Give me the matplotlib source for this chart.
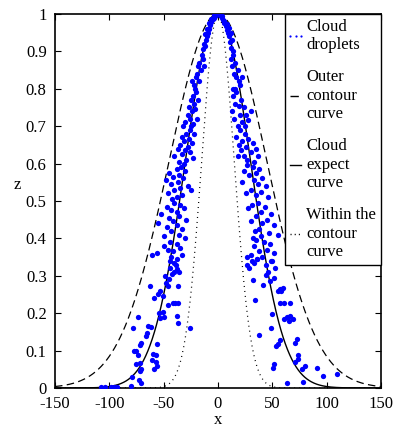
import numpy as np
import matplotlib
matplotlib.use("Agg")
import matplotlib.pyplot as plt
from matplotlib.lines import Line2D
from matplotlib.legend_handler import HandlerLine2D

plt.rcParams['font.family'] = ['Liberation Serif', 'DejaVu Serif']
plt.rcParams['mathtext.fontset'] = 'stix'

# Cloud model parameters (expectation, entropy, hyper-entropy)
Ex = 0.0
En = 30.0
He = 5.0

# Cloud droplets (x, z)
drop_x = [
    -1, 0, 1, -2, 2, -3, 3, -4, 4, -5, 5, -6, 6, -7, 7, -8, 8, -9, 9, -10, 10, -11, 11, -12, 12,
    -6, 6, -8, 8, -10, 10, -12, 12, -4, 4, -13, 13, -14, 14, -2, 2,
    -15, -17, -14, -18, -16, -19, -20, -17, -22, -21, -13, -24,
    14, 16, 13, 18, 15, 17, 19, 20, 14, 16, 22, 12,
    -20, -23, -18, -25, -22, -27, -21, -24, -28, -19, -26, -30, -23, -25, -32,
    17, 14, 21, 16, 19, 24, 13, 20, 26, 15, 22, 28, 18, 25, 30,
    -26, -29, -22, -33, -27, -31, -24, -35, -28, -37, -30, -26, -33, -40, -29, -36, -31, -23,
    20, 25, 17, 28, 22, 32, 19, 26, 35, 21, 30, 24, 37, 27, 33, 18,
    -34, -38, -30, -45, -36, -41, -32, -48, -37, -43, -28, -35, -40, -46, -33, -38, -25, -42,
    27, 32, 38, 24, 35, 29, 41, 33, 22, 37, 44, 30, 40, 35, 46, 26,
    -40, -35, -47, -31, -43, -38, -52, -36, -45, -29, -41, -55, -38, -47, -33, -43, -36, -50, -30,
    37, 31, 43, 28, 40, 49, 35, 45, 30, 41, 52, 38, 34, 47, 40, 55, 32,
    -44, -38, -50, -35, -46, -41, -56, -33, -43, -38, -61, -44, -39, -40,
    35, 42, 48, 33, 45, 38, 52, 30, 41, 36, 49, 27, 33, 44,
    -62.6, -58.6, -73.9, -77.9, -64.4, -62, -65.3, -66, -71.8, -70.5, -77.3, -75, -73.9, -75.4,
    -72, -71.8, -70.5, -72.7, -71, -79.4, -60, -57, -61, -57, -56, -59, -56.4, -53.4, -54, -50,
    -51, -45.7, -39.6, -37, -41, -38, -36.8, -25.8, -47.8, -46, -45, -37, -44, -40, -38, -42,
    -36, -49, -53, -55, -51, -108, -104, -96, -93, -80, -98,
    27, 31, 36, 29, 31.9, 34, 38, 41.7, 44, 46, 49.4, 52.4, 51.8, 48, 57, 60, 55, 58, 57, 61,
    66, 63.5, 66, 61, 65, 69, 49.4, 48.8, 57, 55, 53, 72.7, 71, 73.9, 74, 51.5, 50.5, 70.8,
    77.3, 80, 91.4, 96.3, 110, 64, 78,
]
drop_z = [
    1.0, 1.0, 0.999, 0.998, 0.997, 0.995, 0.994, 0.99, 0.99, 0.985, 0.984, 0.978, 0.976, 0.97,
    0.968, 0.96, 0.958, 0.95, 0.948, 0.94, 0.94, 0.93, 0.925, 0.915, 0.91,
    0.985, 0.982, 0.975, 0.972, 0.96, 0.962, 0.945, 0.95, 0.996, 0.995, 0.92, 0.93, 0.905, 0.9,
    0.999, 1.0,
    0.89, 0.87, 0.88, 0.86, 0.85, 0.84, 0.83, 0.82, 0.81, 0.80, 0.86, 0.82,
    0.89, 0.87, 0.86, 0.85, 0.84, 0.83, 0.82, 0.81, 0.8, 0.8, 0.83, 0.88,
    0.79, 0.78, 0.77, 0.77, 0.76, 0.75, 0.745, 0.74, 0.73, 0.72, 0.72, 0.71, 0.705, 0.70, 0.70,
    0.79, 0.78, 0.77, 0.76, 0.755, 0.75, 0.74, 0.73, 0.73, 0.72, 0.71, 0.715, 0.70, 0.70, 0.74,
    0.69, 0.68, 0.68, 0.67, 0.665, 0.66, 0.655, 0.65, 0.645, 0.64, 0.635, 0.63, 0.625, 0.62,
    0.61, 0.605, 0.60, 0.615,
    0.69, 0.68, 0.67, 0.665, 0.66, 0.655, 0.65, 0.645, 0.64, 0.635, 0.63, 0.62, 0.62, 0.61,
    0.605, 0.62,
    0.59, 0.585, 0.58, 0.575, 0.57, 0.565, 0.56, 0.555, 0.55, 0.545, 0.54, 0.535, 0.53, 0.52,
    0.515, 0.51, 0.53, 0.505,
    0.595, 0.59, 0.585, 0.58, 0.575, 0.57, 0.56, 0.555, 0.55, 0.545, 0.54, 0.53, 0.525, 0.515,
    0.51, 0.52,
    0.495, 0.49, 0.485, 0.48, 0.475, 0.47, 0.465, 0.46, 0.455, 0.45, 0.445, 0.44, 0.435, 0.43,
    0.425, 0.42, 0.41, 0.405, 0.40,
    0.495, 0.49, 0.485, 0.48, 0.47, 0.465, 0.46, 0.45, 0.445, 0.44, 0.435, 0.425, 0.42, 0.415,
    0.405, 0.41, 0.40,
    0.39, 0.385, 0.38, 0.375, 0.37, 0.365, 0.36, 0.355, 0.35, 0.345, 0.355, 0.34, 0.33, 0.335,
    0.395, 0.39, 0.385, 0.38, 0.37, 0.365, 0.36, 0.355, 0.35, 0.345, 0.34, 0.35, 0.335, 0.33,
    0.273, 0.241, 0.19, 0.16, 0.167, 0.163, 0.147, 0.14, 0.116, 0.12, 0.099, 0.1, 0.088, 0.064,
    0.068, 0.045, 0.05, 0.021, 0.012, 0.03, 0.09, 0.088, 0.075, 0.07, 0.058, 0.05, 0.118, 0.187,
    0.2, 0.19, 0.204, 0.222, 0.227, 0.227, 0.226, 0.193, 0.175, 0.161, 0.28, 0.272, 0.29, 0.273,
    0.32, 0.31, 0.318, 0.305, 0.31, 0.3, 0.26, 0.25, 0.245, 0.003, 0.003, 0.002, 0.002, 0.004,
    0.003,
    0.33, 0.34, 0.345, 0.32, 0.289, 0.235, 0.142, 0.275, 0.302, 0.31, 0.34, 0.32, 0.293, 0.285,
    0.265, 0.267, 0.26, 0.258, 0.227, 0.227, 0.228, 0.19, 0.192, 0.185, 0.18, 0.184, 0.197,
    0.16, 0.128, 0.118, 0.113, 0.131, 0.12, 0.088, 0.078, 0.064, 0.054, 0.07, 0.052, 0.06,
    0.053, 0.033, 0.037, 0.014, 0.017,
]

x_ticks = [-150, -100, -50, 0, 50, 100, 150]
y_ticks = [0, 0.1, 0.2, 0.3, 0.4, 0.5, 0.6, 0.7, 0.8, 0.9, 1]
y_ticklabels = ['0', '0.1', '0.2', '0.3', '0.4', '0.5', '0.6', '0.7', '0.8', '0.9', '1']

fig = plt.figure(figsize=(3.97, 4.32), dpi=100)
ax = fig.add_axes([0.1385, 0.1019, 0.821, 0.866])

xs = np.linspace(-150, 150, 601)
def curve(s):
    return np.exp(-(xs - Ex) ** 2 / (2 * s ** 2))

ax.plot(drop_x, drop_z, 'o', color=(0, 0, 1), ms=3.8, mew=0, zorder=3)
ax.plot(xs, curve(En + 3 * He), color='black', lw=0.9, dashes=(6, 3.5), zorder=2)
ax.plot(xs, curve(En), color='black', lw=1.0, zorder=2)
ax.plot(xs, curve(En - 3 * He), color='black', lw=0.9, dashes=(0.8, 3.2), zorder=2)

ax.set_xlim(-150, 150)
ax.set_ylim(0, 1)
ax.set_xticks(x_ticks)
ax.set_xticklabels([str(v) for v in x_ticks])
ax.set_yticks(y_ticks)
ax.set_yticklabels(y_ticklabels)
ax.tick_params(direction='in', top=True, right=True, labelsize=12, length=4, width=0.8, pad=6)
for sp in ax.spines.values():
    sp.set_linewidth(1.2)

ax.set_xlabel('x', fontsize=12, labelpad=0)
ax.set_ylabel('z', fontsize=12, rotation=0, labelpad=8)
ax.yaxis.set_label_coords(-0.115, 0.52)

handles = [
    Line2D([], [], ls='none', marker='o', color=(0, 0, 1), ms=1.6, mew=0),
    Line2D([], [], color='black', lw=1.0, dashes=(6, 2)),
    Line2D([], [], color='black', lw=1.0),
    Line2D([], [], color='black', lw=1.0, dashes=(0.8, 2.2)),
]
labels = ['Cloud\ndroplets', 'Outer\ncontour\ncurve', 'Cloud\nexpect\ncurve',
          'Within the\ncontour\ncurve']
leg = ax.legend(handles, labels, loc='upper right', bbox_to_anchor=(1.0, 1.0),
                borderaxespad=0, fontsize=12, handlelength=0.65, handletextpad=0.3,
                labelspacing=0.97, borderpad=0.3, numpoints=3, fancybox=False,
                framealpha=1, edgecolor='black',
                handler_map={Line2D: HandlerLine2D(marker_pad=0.0)})
leg.get_frame().set_linewidth(1.0)

fig.savefig('out.png', dpi=100)
